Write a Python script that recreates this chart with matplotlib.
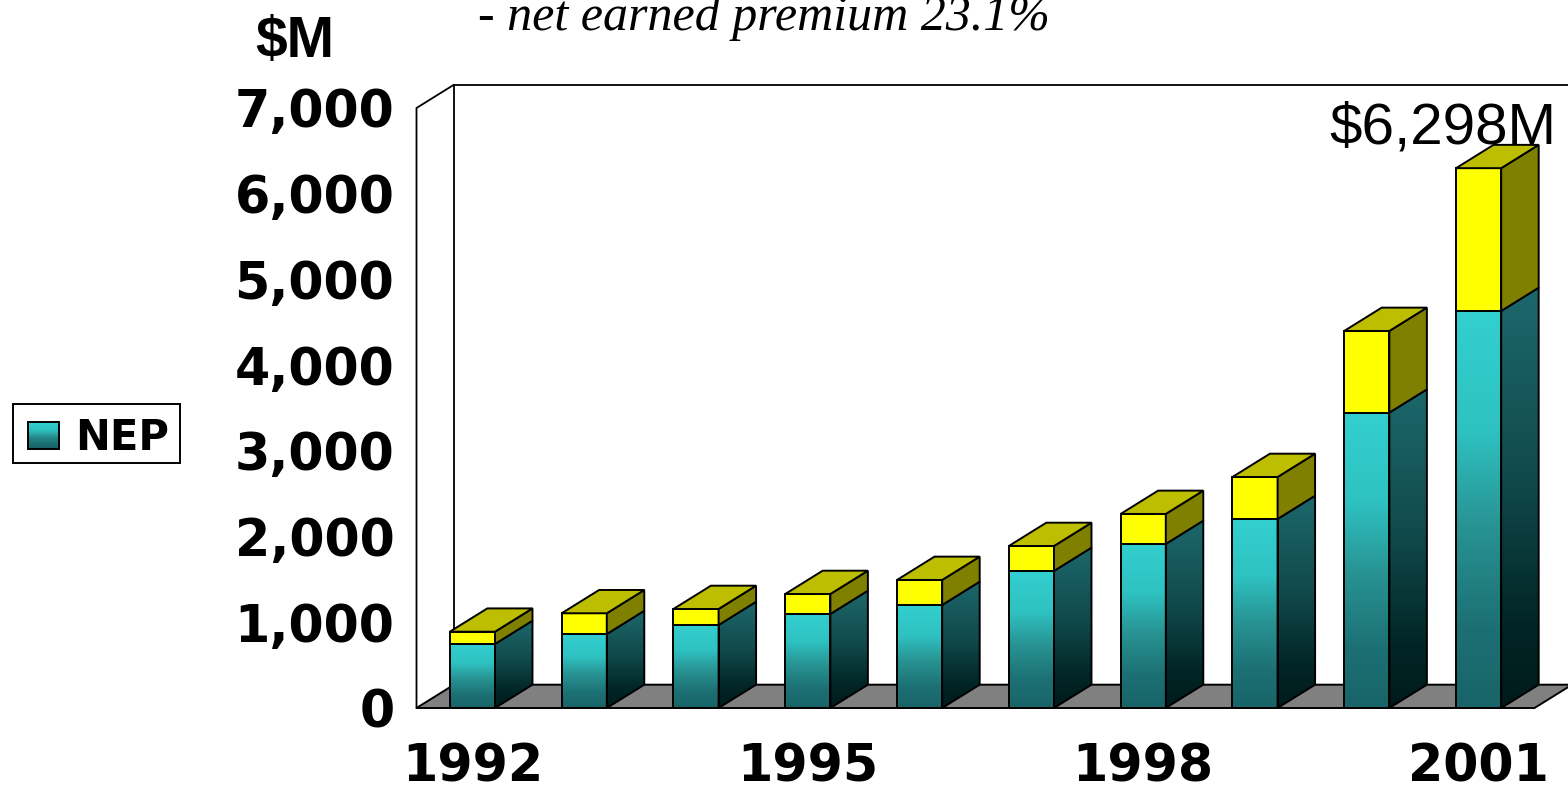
import matplotlib
matplotlib.use("Agg")
import numpy as np
import matplotlib.pyplot as plt
from matplotlib.colors import LinearSegmentedColormap
from matplotlib.legend_handler import HandlerBase
from matplotlib.patches import Patch, Polygon, Rectangle

# Net earned premium and total for each year, $M
years = [1992, 1993, 1994, 1995, 1996, 1997, 1998, 1999, 2000, 2001]
nep = [747, 863, 968, 1097, 1202, 1599, 1914, 2205, 3446, 4632]
total = [890, 1105, 1155, 1330, 1494, 1890, 2264, 2695, 4399, 6298]
y_ticks = [0, 1000, 2000, 3000, 4000, 5000, 6000, 7000]
labelled_years = [1992, 1995, 1998, 2001]

W, H = 1568, 785
BAR_W = 0.404
DX = 37.5 / 111.8   # oblique depth, in category units
DY = 272.0          # oblique depth, in value units
LW = 1.4

front_cmap = LinearSegmentedColormap.from_list(
    "front", [(0.0, "#33cfcf"), (0.3, "#2fc2c2"), (0.55, "#289292"), (0.8, "#1c7074"), (1.0, "#186468")])
side_cmap = LinearSegmentedColormap.from_list(
    "side", [(0.0, "#1c686c"), (0.45, "#114a4c"), (0.8, "#022626"), (1.0, "#001a1a")])
GRAD = np.linspace(0, 1, 256).reshape(-1, 1)

fig = plt.figure(figsize=(W / 100, H / 100), dpi=100, facecolor="white")
ax = fig.add_axes([416.5 / W, (H - 708) / H, 1118 / W, 600 / H])
ax.set_xlim(0, 10)
ax.set_ylim(0, 7000)
ax.set_autoscale_on(False)
ax.patch.set_visible(False)
for spine in ax.spines.values():
    spine.set_visible(False)


def poly(points, color, z):
    ax.add_patch(Polygon(points, closed=True, facecolor=color, edgecolor="black",
                         linewidth=LW, joinstyle="miter", clip_on=False, zorder=z))


def shaded(points, cmap, z):
    xs, ys = zip(*points)
    im = ax.imshow(GRAD, cmap=cmap, aspect="auto", origin="upper", interpolation="bilinear",
                   extent=(min(xs), max(xs), min(ys), max(ys)), zorder=z)
    clip = Polygon(points, closed=True, transform=ax.transData)
    im.set_clip_path(clip)
    im.set_clip_box(fig.bbox)
    poly(points, "none", z + 0.1)


# Floor and walls
poly([(0, 0), (DX, DY), (10 + DX, DY), (10, 0)], "#808080", 1)
wall_style = dict(color="black", linewidth=1.3, clip_on=False, zorder=1.5)
ax.plot([0, 0, DX, DX], [0, 7000, 7000 + DY, DY], **wall_style)
ax.plot([DX, 10 + DX], [7000 + DY, 7000 + DY], **wall_style)

# Stacked oblique bars, left to right
for i, (low, high) in enumerate(zip(nep, total)):
    x0 = i + 0.5 - BAR_W / 2
    x1 = x0 + BAR_W
    z = 2 + i
    shaded([(x0, 0), (x1, 0), (x1, low), (x0, low)], front_cmap, z)
    shaded([(x1, 0), (x1 + DX, DY), (x1 + DX, low + DY), (x1, low)], side_cmap, z)
    poly([(x0, low), (x1, low), (x1, high), (x0, high)], "#ffff00", z + 0.2)
    poly([(x1, low), (x1 + DX, low + DY), (x1 + DX, high + DY), (x1, high)], "#808000", z + 0.2)
    poly([(x0, high), (x1, high), (x1 + DX, high + DY), (x0 + DX, high + DY)], "#bebe00", z + 0.2)

# Axis labels
ax.set_yticks(y_ticks, [f"{v:,}" for v in y_ticks],
              fontfamily="DejaVu Sans", fontweight="bold", fontsize=36.5)
ax.set_xticks([years.index(y) + 0.5 for y in labelled_years], labelled_years,
              fontfamily="DejaVu Sans", fontweight="bold", fontsize=36.5)
ax.tick_params(axis="y", length=0, pad=16)
ax.tick_params(axis="x", length=0, pad=25)

# Value label over the final bar
ax.text(9.18, total[-1] + 290, f"${total[-1]:,}M", ha="center", va="baseline",
        fontfamily="Liberation Sans", fontsize=42, clip_on=False, zorder=20)

fig.text(255 / W, 1 - 57 / H, "$M", ha="left", va="baseline",
         fontfamily="Liberation Sans", fontweight="bold", fontsize=41)
fig.text(478 / W, 1 - 30 / H, "- net earned premium 23.1%", ha="left", va="baseline",
         fontfamily="Liberation Serif", fontstyle="italic", fontsize=36)


class GradientSwatch(HandlerBase):
    def create_artists(self, legend, orig_handle, xdescent, ydescent, width, height,
                       fontsize, trans):
        strips = []
        n = 24
        for k in range(n):
            strips.append(Rectangle((-xdescent, -ydescent + height * (1 - (k + 1) / n)),
                                    width, height / n + 0.3,
                                    facecolor=front_cmap(k / (n - 1)), edgecolor="none",
                                    transform=trans))
        strips.append(Rectangle((-xdescent, -ydescent), width, height, facecolor="none",
                                edgecolor="black", linewidth=LW, transform=trans))
        return strips


# Legend entry sits inside a separately drawn box so the padding can differ per side
fig.add_artist(Rectangle((13 / W, 1 - 463 / H), 167 / W, 59 / H, transform=fig.transFigure,
                         facecolor="white", edgecolor="black", linewidth=1.4))
fig.legend(
    handles=[Patch(facecolor="#2fc2c2", label="NEP")],
    handler_map={Patch: GradientSwatch()},
    loc="lower left", bbox_to_anchor=(28 / W, 1 - 459 / H), bbox_transform=fig.transFigure,
    borderaxespad=0, borderpad=0, frameon=False,
    handlelength=0.75, handleheight=0.62, handletextpad=0.38,
    prop={"family": "DejaVu Sans", "weight": "bold", "size": 30},
)

fig.savefig("out.png", dpi=100)
